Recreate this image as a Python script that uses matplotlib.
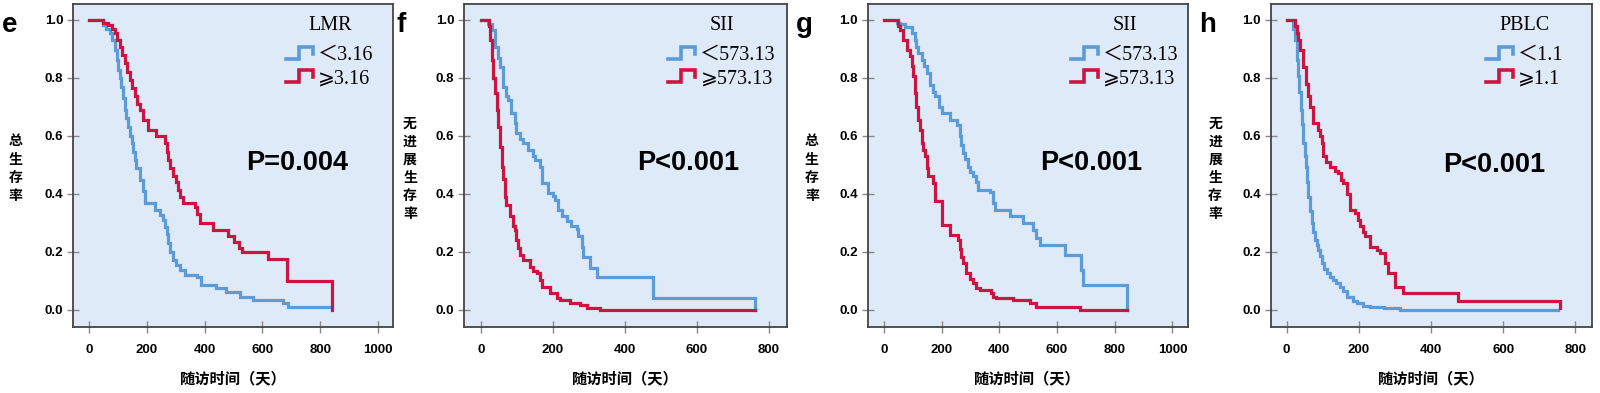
import matplotlib
matplotlib.use("Agg")
import matplotlib.pyplot as plt
from matplotlib.legend_handler import HandlerBase
from matplotlib.lines import Line2D

BLUE = "#5B9BD8"
RED = "#CC1440"
BG = "#DFEAF8"

# panel e: LMR, overall survival (time in days, survival fraction)
E_LOW_T = [0, 48, 60, 72, 80, 89, 95, 100, 106, 112, 118, 124, 129, 135, 141, 147, 152, 158, 164, 175,
           187, 193, 227, 245, 256, 262, 268, 273, 279, 291, 302, 314, 331, 372, 389, 441, 475, 521, 567,
           671, 689, 840]
E_LOW_S = [1.0, 0.983, 0.97, 0.954, 0.93, 0.897, 0.86, 0.828, 0.80, 0.77, 0.73, 0.69, 0.66, 0.632, 0.60,
           0.575, 0.545, 0.517, 0.49, 0.448, 0.41, 0.368, 0.345, 0.328, 0.31, 0.287, 0.26, 0.23, 0.20,
           0.172, 0.155, 0.138, 0.121, 0.115, 0.086, 0.075, 0.063, 0.046, 0.034, 0.022, 0.011, 0.011]
E_HIGH_T = [0, 48, 66, 80, 89, 98, 106, 115, 124, 132, 141, 150, 158, 167, 175, 187, 204, 233, 262, 268,
            273, 280, 291, 300, 308, 316, 325, 366, 375, 383, 429, 480, 500, 520, 530, 620, 685, 840]
E_HIGH_S = [1.0, 0.99, 0.983, 0.97, 0.954, 0.93, 0.908, 0.88, 0.851, 0.82, 0.793, 0.765, 0.736, 0.71,
            0.69, 0.655, 0.621, 0.598, 0.575, 0.545, 0.517, 0.49, 0.46, 0.44, 0.414, 0.39, 0.368, 0.356,
            0.33, 0.299, 0.276, 0.255, 0.235, 0.215, 0.198, 0.175, 0.10, 0.0]

# panel f: SII, progression-free survival
F_LOW_T = [0, 20, 30, 39, 48, 53, 62, 71, 76, 85, 95, 99, 110, 118, 132, 146, 150, 164, 169, 187, 201,
           206, 215, 225, 239, 252, 266, 271, 280, 285, 303, 322, 480, 763]
F_LOW_S = [1.0, 0.985, 0.966, 0.908, 0.87, 0.839, 0.77, 0.736, 0.724, 0.678, 0.644, 0.609, 0.59, 0.575,
           0.552, 0.529, 0.517, 0.494, 0.437, 0.402, 0.391, 0.379, 0.345, 0.322, 0.305, 0.29, 0.28,
           0.253, 0.218, 0.184, 0.144, 0.115, 0.04, 0.0]
F_HIGH_T = [0, 23, 25, 30, 34, 39, 44, 48, 53, 58, 62, 67, 71, 81, 90, 95, 99, 104, 109, 118, 136, 146,
            155, 164, 169, 192, 211, 220, 248, 276, 294, 331, 763]
F_HIGH_S = [1.0, 0.98, 0.93, 0.862, 0.80, 0.747, 0.69, 0.632, 0.56, 0.494, 0.45, 0.39, 0.36, 0.322, 0.29,
            0.276, 0.24, 0.213, 0.19, 0.172, 0.149, 0.135, 0.126, 0.103, 0.08, 0.057, 0.04, 0.034,
            0.023, 0.017, 0.006, 0.0, 0.0]

# panel g: SII, overall survival
G_LOW_T = [0, 44, 55, 73, 96, 107, 113, 119, 131, 140, 148, 159, 170, 177, 190, 200, 229, 252, 263, 269,
           275, 281, 292, 300, 309, 318, 327, 367, 379, 384, 436, 483, 517, 529, 540, 627, 685, 691, 841]
G_LOW_S = [1.0, 0.99, 0.985, 0.977, 0.954, 0.93, 0.908, 0.885, 0.862, 0.84, 0.816, 0.776, 0.75, 0.736,
           0.70, 0.678, 0.655, 0.638, 0.598, 0.57, 0.54, 0.52, 0.494, 0.475, 0.46, 0.44, 0.414, 0.408,
           0.368, 0.345, 0.322, 0.299, 0.276, 0.247, 0.224, 0.19, 0.138, 0.086, 0.0]
G_HIGH_T = [0, 50, 55, 67, 79, 90, 96, 101, 107, 113, 119, 125, 131, 136, 142, 148, 153, 171, 177, 200,
            229, 257, 263, 269, 275, 286, 298, 309, 321, 333, 373, 379, 390, 448, 506, 529, 679, 841]
G_HIGH_S = [1.0, 0.98, 0.966, 0.931, 0.897, 0.874, 0.84, 0.805, 0.747, 0.70, 0.655, 0.62, 0.575, 0.55,
            0.529, 0.49, 0.46, 0.437, 0.374, 0.293, 0.259, 0.241, 0.21, 0.184, 0.16, 0.126, 0.105,
            0.092, 0.075, 0.069, 0.057, 0.046, 0.04, 0.034, 0.023, 0.011, 0.0, 0.0]

# panel h: PBLC, progression-free survival
H_LOW_T = [0, 18, 23, 28, 32, 35, 39, 42, 46, 50, 53, 57, 60, 65, 69, 74, 78, 83, 88, 92, 97, 104, 111,
           120, 129, 138, 148, 157, 166, 185, 194, 212, 231, 270, 314, 752]
H_LOW_S = [1.0, 0.97, 0.93, 0.862, 0.805, 0.75, 0.69, 0.64, 0.575, 0.53, 0.494, 0.44, 0.39, 0.34, 0.30,
           0.27, 0.241, 0.225, 0.207, 0.185, 0.162, 0.14, 0.126, 0.112, 0.103, 0.092, 0.08, 0.065,
           0.046, 0.029, 0.023, 0.015, 0.011, 0.005, 0.0, 0.0]
H_HIGH_T = [0, 23, 28, 32, 37, 46, 55, 60, 65, 74, 88, 92, 97, 101, 110, 120, 134, 143, 152, 157, 166,
            175, 189, 198, 203, 212, 217, 231, 249, 258, 272, 281, 300, 323, 475, 757]
H_HIGH_S = [1.0, 0.98, 0.954, 0.931, 0.897, 0.839, 0.78, 0.736, 0.70, 0.644, 0.621, 0.60, 0.575, 0.529,
            0.51, 0.494, 0.48, 0.471, 0.448, 0.437, 0.40, 0.345, 0.333, 0.31, 0.29, 0.27, 0.253, 0.218,
            0.207, 0.196, 0.161, 0.126, 0.08, 0.057, 0.029, 0.006]

LETTERS = ["e", "f", "g", "h"]
TITLES = ["LMR", "SII", "SII", "PBLC"]
CUTS = ["3.16", "573.13", "573.13", "1.1"]
PVALS = ["P=0.004", "P<0.001", "P<0.001", "P<0.001"]
YLABELS = ["总生存率", "无进展生存率", "总生存率", "无进展生存率"]
XMAX = [1000, 800, 1000, 800]
XLIMS = [(-56, 1052), (-47, 852), (-56, 1053), (-44, 845)]
XLABEL = "随访时间（天）"
Y_TICKS = [0.0, 0.2, 0.4, 0.6, 0.8, 1.0]

CURVES = [
    ((E_LOW_T, E_LOW_S), (E_HIGH_T, E_HIGH_S)),
    ((F_LOW_T, F_LOW_S), (F_HIGH_T, F_HIGH_S)),
    ((G_LOW_T, G_LOW_S), (G_HIGH_T, G_HIGH_S)),
    ((H_LOW_T, H_LOW_S), (H_HIGH_T, H_HIGH_S)),
]

# layout (figure fractions) and per-panel text placement (axes fractions)
LEFTS = [0.0456, 0.29, 0.5423, 0.7942]
WIDTHS = [0.200, 0.202, 0.200, 0.2006]
LEG_X = [0.94, 0.965, 0.972, 0.912]
P_X = [0.70, 0.693, 0.697, 0.696]
P_Y = [0.508, 0.508, 0.508, 0.50]
YL_X = [-0.18, -0.167, -0.174, -0.173]

CJK = ["Noto Sans CJK SC", "DejaVu Sans"]
SANS = ["Liberation Sans", "DejaVu Sans"]
SERIF = ["Liberation Serif", "Noto Sans CJK SC", "DejaVu Sans"]


class StepHandler(HandlerBase):
    # little "_|-|" step icon like the SPSS legend
    def create_artists(self, legend, orig_handle, xdescent, ydescent, width, height, fontsize, trans):
        x0 = -xdescent
        xs = [x0, x0 + 0.45 * width, x0 + 0.45 * width, x0 + 0.92 * width, x0 + 0.92 * width]
        ys = [0.05 * height, 0.05 * height, 0.95 * height, 0.95 * height, 0.45 * height]
        ln = Line2D(xs, ys, color=orig_handle.get_color(), lw=2.6, solid_joinstyle="miter")
        ln.set_transform(trans)
        return [ln]


fig = plt.figure(figsize=(16, 3.93), dpi=100)

for i in range(4):
    ax = fig.add_axes([LEFTS[i], 0.168, WIDTHS[i], 0.822])
    ax.set_facecolor(BG)
    (lt, ls), (ht, hs) = CURVES[i]
    l1, = ax.step(lt, ls, where="post", color=BLUE, lw=2.3, solid_joinstyle="miter")
    l2, = ax.step(ht, hs, where="post", color=RED, lw=2.3, solid_joinstyle="miter")

    ax.set_xlim(*XLIMS[i])
    ax.set_ylim(-0.059, 1.055)
    ax.set_xticks(range(0, XMAX[i] + 1, 200))
    ax.set_yticks(Y_TICKS)
    ax.set_yticklabels([f"{v:.1f}" for v in Y_TICKS])
    for sp in ax.spines.values():
        sp.set_color("#444444")
        sp.set_linewidth(1.3)
    ax.tick_params(direction="inout", length=8, width=1, color="#888888", labelsize=9.5)
    ax.tick_params(axis="x", pad=8)
    ax.tick_params(axis="y", pad=3)
    for lab in ax.get_xticklabels() + ax.get_yticklabels():
        lab.set_family(SANS)
        lab.set_fontweight("bold")

    leg = ax.legend([l1, l2], ["＜" + CUTS[i], "⩾" + CUTS[i]], title=TITLES[i],
                    handler_map={Line2D: StepHandler()}, loc="upper right",
                    bbox_to_anchor=(LEG_X[i], 0.964), frameon=False, borderaxespad=0,
                    borderpad=0, handlelength=1.45, handleheight=0.65, handletextpad=0.15,
                    labelspacing=0.22, prop={"family": SERIF, "size": 14.5})
    leg.get_title().set_fontproperties({"family": SERIF, "size": 14.5})
    leg._legend_box.sep = 8

    ax.text(P_X[i], P_Y[i], PVALS[i], transform=ax.transAxes, ha="center", va="center",
            fontsize=19.5, fontweight="bold", family=SANS)
    ax.text(YL_X[i], 0.49, "\n".join(YLABELS[i]), transform=ax.transAxes, ha="center", va="center",
            fontsize=10, fontweight="bold", family=CJK, linespacing=1.38)
    ax.text(0.5, -0.158, XLABEL, transform=ax.transAxes, ha="center", va="center",
            fontsize=11, fontweight="bold", family=CJK)
    fig.text((LEFTS[i] * 1600 - 63) / 1600, 1 - 25 / 393, LETTERS[i],
             ha="center", va="center", fontsize=20, fontweight="bold", family=SANS)

fig.savefig("out.png", dpi=100)
